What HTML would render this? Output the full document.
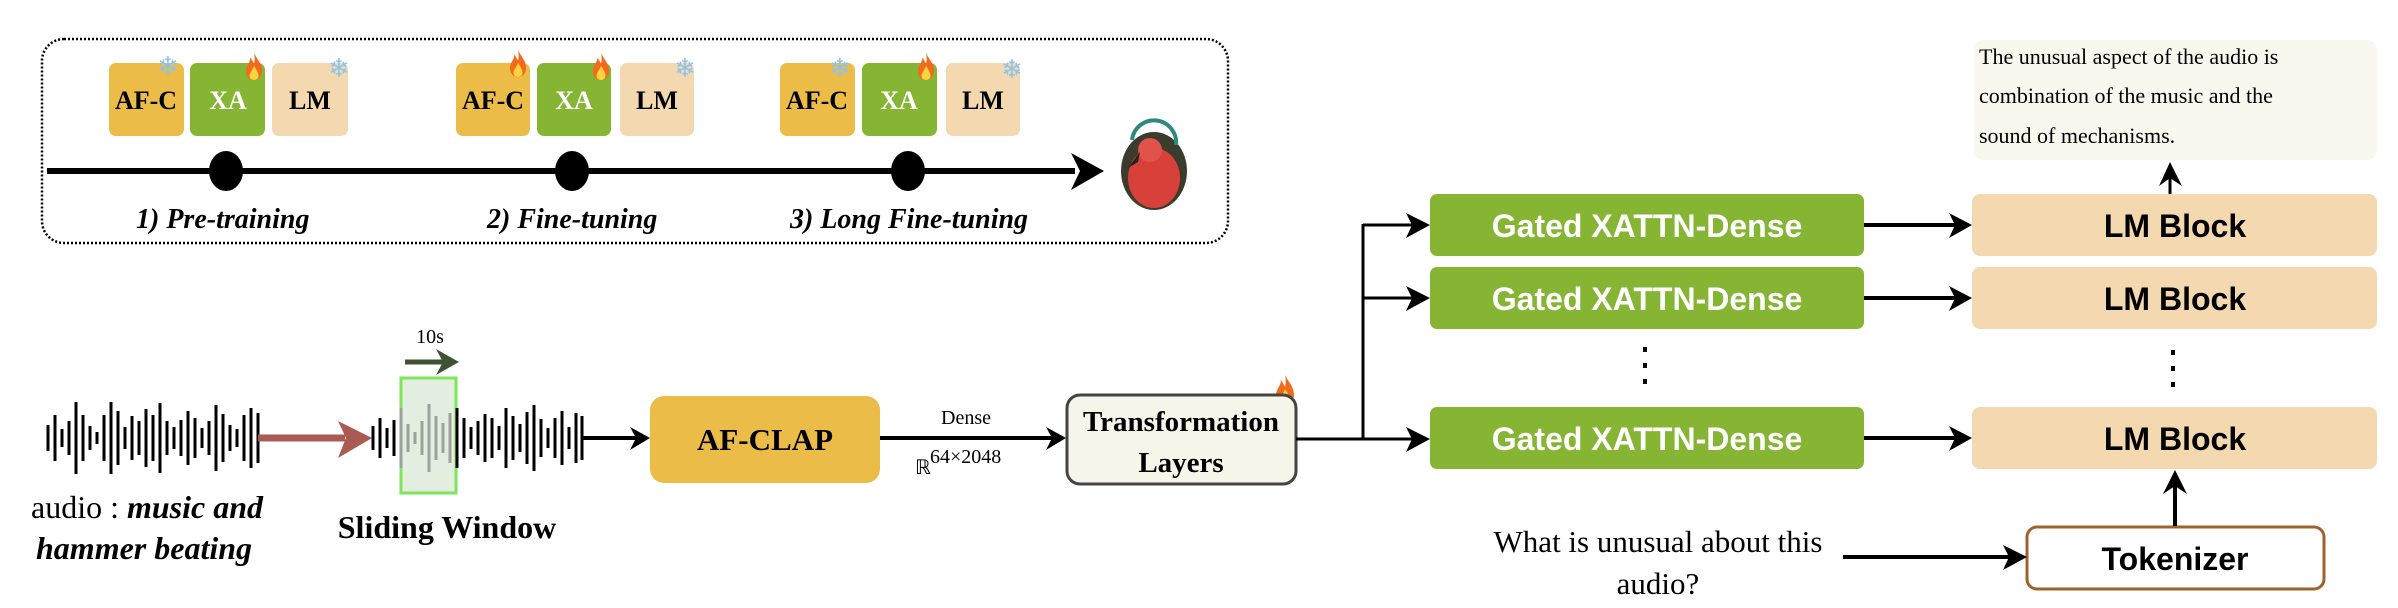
<!DOCTYPE html>
<html><head><meta charset="utf-8"><style>
html,body{margin:0;padding:0;background:#fff;}
svg{display:block;}
.ser{font-family:"Liberation Serif",serif;}
.san{font-family:"Liberation Sans",sans-serif;}
</style></head><body>
<svg width="2398" height="608" viewBox="0 0 2398 608" xmlns="http://www.w3.org/2000/svg">
<defs>
<symbol id="fire" viewBox="0 0 20 30"><path d="M10 0 C14 8 19 12 19 20 C19 26 15 30 10 30 C5 30 1 26 1 20 C1 14 6 11 6 5 C8 8 9 10 10 12 C11 8 11 4 10 0Z" fill="#f26b1d"/><path d="M10 14 C13 19 15 22 15 25 C15 28 13 30 10 30 C7 30 5 28 5 25 C5 22 8 20 10 14Z" fill="#ffd23f"/></symbol>
</defs>

<rect x="42" y="39" width="1186" height="204" rx="22" fill="none" stroke="#000" stroke-width="2.5" stroke-dasharray="2 2"/>

<g class="ser" font-weight="bold" font-size="26" text-anchor="middle">
<rect x="109" y="63" width="75" height="73" rx="7" fill="#ecbc49"/><text x="146" y="109">AF-C</text>
<rect x="190" y="63" width="75" height="73" rx="7" fill="#86b534"/><text x="228" y="109" fill="#fff">XA</text>
<rect x="272" y="63" width="76" height="73" rx="7" fill="#f3d8b0"/><text x="310" y="109">LM</text>
<rect x="456" y="63" width="74" height="73" rx="7" fill="#ecbc49"/><text x="493" y="109">AF-C</text>
<rect x="537" y="63" width="74" height="73" rx="7" fill="#86b534"/><text x="574" y="109" fill="#fff">XA</text>
<rect x="620" y="63" width="74" height="73" rx="7" fill="#f3d8b0"/><text x="657" y="109">LM</text>
<rect x="780" y="63" width="75" height="73" rx="7" fill="#ecbc49"/><text x="817" y="109">AF-C</text>
<rect x="862" y="63" width="75" height="73" rx="7" fill="#86b534"/><text x="899" y="109" fill="#fff">XA</text>
<rect x="946" y="63" width="74" height="73" rx="7" fill="#f3d8b0"/><text x="983" y="109">LM</text>
</g>
<g font-family="DejaVu Sans,sans-serif" font-size="26" fill="#8cc4ee" text-anchor="middle">
<text x="168" y="75">❄</text><text x="339" y="77">❄</text><text x="685" y="77">❄</text><text x="840" y="77">❄</text><text x="1012" y="78">❄</text>
</g>
<use href="#fire" x="245" y="53" width="18" height="27"/>
<use href="#fire" x="509" y="50" width="18" height="27"/>
<use href="#fire" x="592" y="53" width="18" height="27"/>
<use href="#fire" x="917" y="53" width="18" height="27"/>
<use href="#fire" x="1275" y="375" width="20" height="30"/>

<line x1="47" y1="171" x2="1075" y2="171" stroke="#000" stroke-width="6"/>
<polygon points="1071,153 1104,171 1071,190 1080,171" fill="#000"/>
<ellipse cx="226" cy="171" rx="17" ry="20" fill="#000"/>
<ellipse cx="572" cy="171" rx="17" ry="20" fill="#000"/>
<ellipse cx="908" cy="171" rx="17" ry="20" fill="#000"/>
<g class="ser" font-weight="bold" font-style="italic" font-size="28">
<text x="136" y="228">1) Pre-training</text>
<text x="487" y="228">2) Fine-tuning</text>
<text x="790" y="228">3) Long Fine-tuning</text>
</g>
<ellipse cx="1154" cy="171" rx="33" ry="39" fill="#3b3b2e"/>
<ellipse cx="1154" cy="178" rx="26" ry="30" fill="#d8413a"/>
<ellipse cx="1150" cy="150" rx="12" ry="12" fill="#e0524a"/>
<path d="M1140 152 L1128 168 L1138 162Z" fill="#222"/>
<path d="M1132 140 A22 22 0 0 1 1176 145" fill="none" stroke="#2c8a7c" stroke-width="4"/>

<g stroke="#000" stroke-width="3">
<line x1="48" y1="425" x2="48" y2="451"/><line x1="55" y1="415" x2="55" y2="461"/><line x1="62" y1="429" x2="62" y2="447"/><line x1="69" y1="421" x2="69" y2="455"/><line x1="76" y1="402" x2="76" y2="474"/><line x1="83" y1="415" x2="83" y2="461"/><line x1="90" y1="426" x2="90" y2="450"/><line x1="97" y1="432" x2="97" y2="444"/><line x1="104" y1="415" x2="104" y2="461"/><line x1="111" y1="402" x2="111" y2="474"/><line x1="118" y1="411" x2="118" y2="465"/><line x1="125" y1="427" x2="125" y2="449"/><line x1="132" y1="416" x2="132" y2="460"/><line x1="139" y1="421" x2="139" y2="455"/><line x1="146" y1="409" x2="146" y2="467"/><line x1="153" y1="415" x2="153" y2="461"/><line x1="160" y1="403" x2="160" y2="473"/><line x1="167" y1="421" x2="167" y2="455"/><line x1="174" y1="427" x2="174" y2="449"/><line x1="181" y1="420" x2="181" y2="456"/><line x1="188" y1="411" x2="188" y2="465"/><line x1="195" y1="418" x2="195" y2="458"/><line x1="202" y1="428" x2="202" y2="448"/><line x1="209" y1="421" x2="209" y2="455"/><line x1="216" y1="405" x2="216" y2="471"/><line x1="223" y1="414" x2="223" y2="462"/><line x1="230" y1="425" x2="230" y2="451"/><line x1="237" y1="429" x2="237" y2="447"/><line x1="244" y1="415" x2="244" y2="461"/><line x1="251" y1="408" x2="251" y2="468"/><line x1="258" y1="413" x2="258" y2="463"/>
</g>
<line x1="258" y1="438" x2="345" y2="438" stroke="#a95a52" stroke-width="7"/>
<polygon points="338,421 372,438 338,458 346,438" fill="#a95a52"/>
<rect x="401" y="378" width="55" height="115" fill="#e3ede0" stroke="#7ee65a" stroke-width="3"/>
<g stroke="#000" stroke-width="3">
<line x1="373" y1="426" x2="373" y2="450"/><line x1="380" y1="418" x2="380" y2="458"/><line x1="387" y1="428" x2="387" y2="448"/><line x1="394" y1="420" x2="394" y2="456"/>
</g>
<g stroke="#9aa29a" stroke-width="3">
<line x1="401" y1="408" x2="401" y2="468"/><line x1="408" y1="424" x2="408" y2="452"/><line x1="415" y1="432" x2="415" y2="444"/><line x1="422" y1="421" x2="422" y2="455"/><line x1="429" y1="404" x2="429" y2="472"/><line x1="436" y1="416" x2="436" y2="460"/><line x1="443" y1="423" x2="443" y2="453"/><line x1="450" y1="413" x2="450" y2="463"/>
</g>
<g stroke="#000" stroke-width="3">
<line x1="457" y1="408" x2="457" y2="468"/><line x1="464" y1="418" x2="464" y2="458"/><line x1="471" y1="427" x2="471" y2="449"/><line x1="478" y1="421" x2="478" y2="455"/><line x1="485" y1="414" x2="485" y2="462"/><line x1="492" y1="418" x2="492" y2="458"/><line x1="499" y1="426" x2="499" y2="450"/><line x1="506" y1="408" x2="506" y2="468"/><line x1="513" y1="416" x2="513" y2="460"/><line x1="520" y1="424" x2="520" y2="452"/><line x1="527" y1="412" x2="527" y2="464"/><line x1="534" y1="405" x2="534" y2="471"/><line x1="541" y1="419" x2="541" y2="457"/><line x1="548" y1="428" x2="548" y2="448"/><line x1="555" y1="418" x2="555" y2="458"/><line x1="562" y1="411" x2="562" y2="465"/><line x1="569" y1="427" x2="569" y2="449"/><line x1="576" y1="413" x2="576" y2="463"/><line x1="582" y1="416" x2="582" y2="460"/>
</g>
<text x="430" y="343" class="ser" font-size="20" text-anchor="middle">10s</text>
<line x1="405" y1="362" x2="448" y2="362" stroke="#3f5232" stroke-width="5"/>
<polygon points="436,349 459,362 436,375 443,362" fill="#3f5232"/>

<line x1="583" y1="438" x2="640" y2="438" stroke="#000" stroke-width="4"/>
<polygon points="630,427 650,438 630,450 636,438" fill="#000"/>
<rect x="650" y="396" width="230" height="87" rx="14" fill="#ecbc49"/>
<text x="765" y="450" class="ser" font-weight="bold" font-size="31" text-anchor="middle">AF-CLAP</text>
<line x1="880" y1="438" x2="1056" y2="438" stroke="#000" stroke-width="4"/>
<polygon points="1046,427 1066,438 1046,450 1052,438" fill="#000"/>
<text x="966" y="424" class="ser" font-size="20" text-anchor="middle">Dense</text>
<text x="915" y="474" class="ser" font-size="20">ℝ</text>
<text x="930" y="463" class="ser" font-size="20">64×2048</text>
<rect x="1067" y="395" width="229" height="89" rx="13" fill="#f7f4ea" stroke="#444" stroke-width="3"/>
<g class="ser" font-weight="bold" font-size="29" text-anchor="middle">
<text x="1181" y="431">Transformation</text>
<text x="1181" y="472">Layers</text>
</g>
<polyline points="1296,439 1363,439" fill="none" stroke="#000" stroke-width="3"/>
<line x1="1363" y1="224" x2="1363" y2="440" stroke="#000" stroke-width="3"/>
<line x1="1363" y1="225" x2="1420" y2="225" stroke="#000" stroke-width="3"/>
<line x1="1363" y1="298" x2="1420" y2="298" stroke="#000" stroke-width="3"/>
<line x1="1363" y1="439" x2="1420" y2="439" stroke="#000" stroke-width="3"/>
<polygon points="1406,213 1430,225 1406,238 1412,225" fill="#000"/>
<polygon points="1406,286 1430,298 1406,311 1412,298" fill="#000"/>
<polygon points="1406,427 1430,439 1406,452 1412,439" fill="#000"/>
<g class="san" font-weight="bold" font-size="32" fill="#fff" text-anchor="middle">
<rect x="1430" y="194" width="434" height="62" rx="7" fill="#86b534"/><text x="1647" y="237">Gated XATTN-Dense</text>
<rect x="1430" y="267" width="434" height="62" rx="7" fill="#86b534"/><text x="1647" y="310">Gated XATTN-Dense</text>
<rect x="1430" y="407" width="434" height="62" rx="7" fill="#86b534"/><text x="1647" y="450">Gated XATTN-Dense</text>
</g>
<line x1="1645" y1="347" x2="1645" y2="386" stroke="#000" stroke-width="4" stroke-dasharray="5 11"/>
<g stroke="#000" stroke-width="4">
<line x1="1864" y1="225" x2="1962" y2="225"/><line x1="1864" y1="298" x2="1962" y2="298"/><line x1="1864" y1="438" x2="1962" y2="438"/>
</g>
<polygon points="1949,213 1972,225 1949,238 1955,225" fill="#000"/>
<polygon points="1949,286 1972,298 1949,311 1955,298" fill="#000"/>
<polygon points="1949,426 1972,438 1949,451 1955,438" fill="#000"/>
<g class="san" font-weight="bold" font-size="32" text-anchor="middle">
<rect x="1972" y="194" width="405" height="62" rx="8" fill="#f3d8b0"/><text x="2175" y="237">LM Block</text>
<rect x="1972" y="267" width="405" height="62" rx="8" fill="#f3d8b0"/><text x="2175" y="310">LM Block</text>
<rect x="1972" y="407" width="405" height="62" rx="8" fill="#f3d8b0"/><text x="2175" y="450">LM Block</text>
</g>
<line x1="2173" y1="350" x2="2173" y2="390" stroke="#000" stroke-width="4" stroke-dasharray="5 11"/>
<rect x="1974" y="40" width="403" height="120" rx="10" fill="#f9f7ee"/>
<g class="ser" font-size="22">
<text x="1979" y="64">The unusual aspect of the audio is</text>
<text x="1979" y="103">combination of the music and the</text>
<text x="1979" y="143">sound of mechanisms.</text>
</g>
<line x1="2170" y1="194" x2="2170" y2="172" stroke="#000" stroke-width="3"/>
<polygon points="2159,186 2170,162 2182,186 2170,178" fill="#000"/>
<rect x="2027" y="527" width="297" height="62" rx="10" fill="#fff" stroke="#a0622b" stroke-width="3"/>
<text x="2175" y="570" class="san" font-weight="bold" font-size="32" text-anchor="middle">Tokenizer</text>
<line x1="2175" y1="526" x2="2175" y2="482" stroke="#000" stroke-width="4"/>
<polygon points="2163,494 2175,470 2187,494 2175,486" fill="#000"/>
<g class="ser" font-size="31" text-anchor="middle">
<text x="1658" y="552">What is unusual about this</text>
<text x="1658" y="594">audio?</text>
</g>
<line x1="1843" y1="557" x2="2017" y2="557" stroke="#000" stroke-width="4"/>
<polygon points="2003,545 2027,557 2003,570 2009,557" fill="#000"/>
<g class="ser" font-size="32">
<text x="31" y="518">audio : <tspan font-weight="bold" font-style="italic">music and</tspan></text>
<text x="36" y="559" font-weight="bold" font-style="italic">hammer beating</text>
</g>
<text x="447" y="538" class="ser" font-weight="bold" font-size="32" text-anchor="middle">Sliding Window</text>
</svg>
</body></html>
